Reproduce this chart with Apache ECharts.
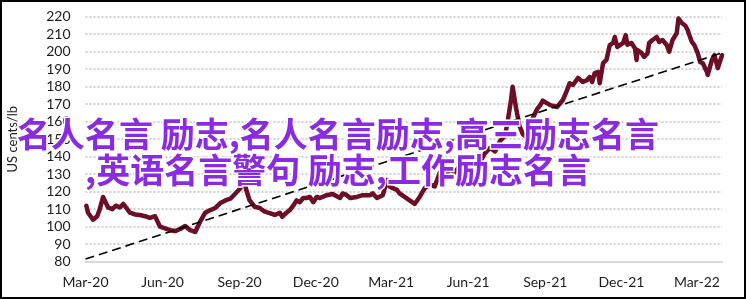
<!DOCTYPE html>
<html>
<head>
<meta charset="utf-8">
<script src="https://cdn.jsdelivr.net/npm/echarts@6/dist/echarts.min.js"></script>
<style>
html,body{margin:0;padding:0;background:#fff;}
#chart{width:746px;height:299px;}
</style>
</head>
<body>
<div id="chart"></div>
<script>
// ---- data ----
const dates = [
'2020-03-02','2020-03-04','2020-03-10','2020-03-15','2020-03-18','2020-03-22','2020-03-24','2020-03-28',
'2020-04-02','2020-04-06','2020-04-11','2020-04-15','2020-04-20','2020-04-23','2020-04-29',
'2020-05-05','2020-05-11','2020-05-17','2020-05-23','2020-05-29',
'2020-06-04','2020-06-10','2020-06-16','2020-06-22','2020-06-28',
'2020-07-04','2020-07-10','2020-07-13','2020-07-16','2020-07-22','2020-07-28',
'2020-08-03','2020-08-09','2020-08-15','2020-08-21','2020-08-27',
'2020-09-02','2020-09-06','2020-09-09','2020-09-13','2020-09-19','2020-09-25',
'2020-10-01','2020-10-07','2020-10-13','2020-10-19','2020-10-22','2020-10-27','2020-10-31',
'2020-11-04','2020-11-08','2020-11-12','2020-11-16','2020-11-20','2020-11-24','2020-11-28',
'2020-12-02','2020-12-06','2020-12-14','2020-12-21','2020-12-30',
'2021-01-02','2021-01-07','2021-01-11','2021-01-19','2021-01-26',
'2021-02-04','2021-02-07','2021-02-12','2021-02-19','2021-02-24','2021-02-27',
'2021-03-03','2021-03-08','2021-03-11','2021-03-17','2021-03-23','2021-03-29',
'2021-04-04','2021-04-10','2021-04-16','2021-04-22','2021-04-28',
'2021-05-04','2021-05-10','2021-05-16','2021-05-22','2021-05-28',
'2021-06-03','2021-06-09','2021-06-15','2021-06-21','2021-06-27',
'2021-07-03','2021-07-09','2021-07-15','2021-07-18','2021-07-22','2021-07-24','2021-07-28',
'2021-08-01','2021-08-05','2021-08-10','2021-08-14','2021-08-17','2021-08-22','2021-08-26','2021-08-29',
'2021-09-07','2021-09-15','2021-09-22','2021-09-27','2021-09-30',
'2021-10-04','2021-10-10','2021-10-16','2021-10-21','2021-10-24','2021-10-27','2021-10-30',
'2021-11-03','2021-11-05','2021-11-09','2021-11-13','2021-11-17','2021-11-21','2021-11-23','2021-11-26',
'2021-12-03','2021-12-06','2021-12-08','2021-12-13','2021-12-17','2021-12-19','2021-12-20','2021-12-25','2021-12-28',
'2022-01-01','2022-01-03','2022-01-07','2022-01-12','2022-01-15','2022-01-19','2022-01-24','2022-01-27','2022-01-31',
'2022-02-05','2022-02-07','2022-02-11','2022-02-15','2022-02-18','2022-02-20','2022-02-23','2022-02-26',
'2022-03-02','2022-03-05','2022-03-08','2022-03-13','2022-03-14','2022-03-19','2022-03-22','2022-03-26','2022-03-31'
];
const prices = [
112,108,104,106,110,117,118,111,
110,112,111,113,110,108,107,
106.7,106,105,106,100,
99,98,97.5,98.7,100.4,
98,97,100,103,108,109.5,
110.7,113.5,115,116,119,
122,127,121,115,111.4,110.7,
108.6,107.8,106.7,108,105.7,108,109.5,
112,115,114,116.4,116.4,117,114,
117,116.4,118,118.7,116.4,
119,118,116.4,117,118,
118,119,116.4,118,126.7,123,
122,121,119,117,115,113,
117,122,124,123,131,
128,133,131,135,133,
137,139,137,142,145,
143,149,152,160,172,180,168,
158,153,151,156,162,167,169.5,172,
169.5,168.4,172.4,178,182,
181,185,182.7,183.8,185.5,182.7,187.8,
188.4,182,193.5,195.3,203.8,205,208.4,202.7,
205,209.5,204,205,202,195.3,201,199.2,197,
199,205,206.7,208.4,205.6,206.7,203.8,200,206.7,
210.7,219,216.4,215,212.4,209.5,205.6,203.8,
199.2,194,193.5,188.4,186.7,195.3,198,190.6,198
];
const trendDates = ['2020-03-01','2022-03-31'];
const trendValues = [81.5, 199.3];
const xTickDates = ['2020-03-01','2020-06-01','2020-09-01','2020-12-01','2021-03-01','2021-06-01','2021-09-01','2021-12-01','2022-03-01'];
const xTickLabels = ['Mar-20','Jun-20','Sep-20','Dec-20','Mar-21','Jun-21','Sep-21','Dec-21','Mar-22'];
const yAxisName = 'US cents/lb';
const overlayText = '名人名言 励志,名人名言励志,高三励志名言\n,英语名言警句 励志,工作励志名言';

// ---- chart ----
// x positions are day numbers counted from the axis start date (2020-03-01)
const origin = Date.UTC(2020, 2, 1);
function dayNum(s){ const p = s.split('-').map(Number); return Math.round((Date.UTC(p[0], p[1]-1, p[2]) - origin) / 86400000); }
const tickDays = xTickDates.map(dayNum);
const chart = echarts.init(document.getElementById('chart'), null, {renderer:'canvas'});
const font = 'Lato';
chart.setOption({
  animation: false,
  backgroundColor: '#fff',
  grid: {left: 85.5, right: 24, top: 16.7, bottom: 37.3, containLabel: false, outerBoundsMode: 'none'},
  xAxis: {
    type: 'value',
    min: dayNum('2020-03-01'),
    max: dayNum('2022-03-31'),
    axisLine: {show: true, lineStyle: {color: '#d9d9d9', width: 2}},
    axisTick: {show: false},
    splitLine: {show: false},
    axisLabel: {
      customValues: tickDays,
      color: '#1c1c1c', fontFamily: font, fontSize: 14, margin: 14,
      hideOverlap: false, showMinLabel: true, showMaxLabel: true,
      formatter: function (v) {
        const i = tickDays.indexOf(Math.round(v));
        return i >= 0 ? xTickLabels[i] : '';
      }
    }
  },
  yAxis: {
    type: 'value', min: 80, max: 220, interval: 10,
    name: yAxisName, nameLocation: 'middle', nameGap: 66, nameRotate: 90,
    nameTextStyle: {color: '#1c1c1c', fontFamily: font, fontSize: 13},
    axisLine: {show: false}, axisTick: {show: false},
    axisLabel: {color: '#1c1c1c', fontFamily: font, fontSize: 14, margin: 15},
    splitLine: {show: true, lineStyle: {color: '#cfcfcf', width: 2, type: [2, 2]}}
  },
  series: [
    {
      type: 'line', name: 'price', showSymbol: false, symbol: 'none',
      data: dates.map((d, i) => [dayNum(d), prices[i]]),
      lineStyle: {color: '#6b0e26', width: 4.5, join: 'round', cap: 'round'},
      z: 3
    },
    {
      type: 'line', name: 'trend', showSymbol: false, symbol: 'none',
      data: trendDates.map((d, i) => [dayNum(d), trendValues[i]]),
      lineStyle: {color: '#000', width: 1.6, type: [9, 5]},
      z: 4
    }
  ],
  graphic: [
    {
      type: 'text', x: 338, y: 152, z: 100,
      style: {
        text: overlayText,
        font: 'bold 34px "Noto Sans CJK SC"',
        fill: '#8a2be2', stroke: '#ffffff', lineWidth: 3,
        align: 'center', verticalAlign: 'middle', lineHeight: 36
      }
    },
    {
      type: 'rect', z: 100,
      shape: {x: 1, y: 1, width: 744, height: 297},
      style: {fill: 'none', stroke: '#000', lineWidth: 2}
    }
  ]
});
</script>
</body>
</html>
